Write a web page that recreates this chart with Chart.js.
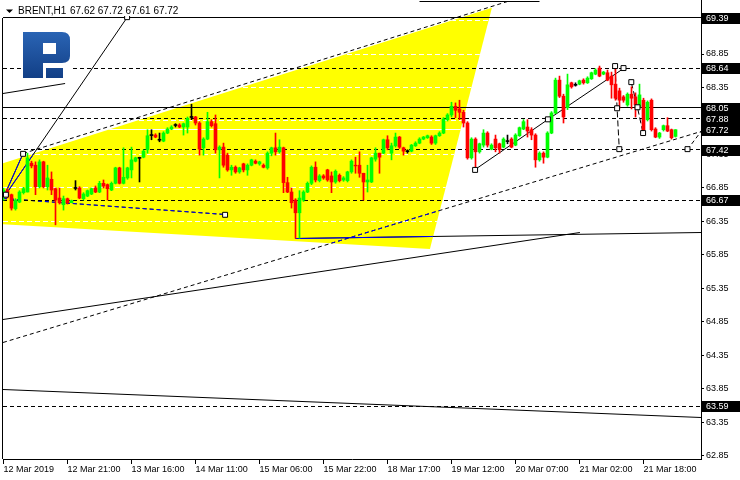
<!DOCTYPE html>
<html><head><meta charset="utf-8">
<script src="https://cdn.jsdelivr.net/npm/chart.js@4"></script>
<style>html,body{margin:0;padding:0;background:#fff}</style>
</head><body>
<canvas id="c" width="740" height="480"></canvas>
<script>
// ---------- DATA ----------
const symbolTitle = 'BRENT,H1';
const lastQuote = '67.62 67.72 67.61 67.72';
const opens = [66.75,66.81,66.75,66.54,66.64,66.78,66.79,67.22,67.19,66.87,
67.24,66.87,66.98,66.84,66.70,66.60,66.69,66.63,66.85,66.85,
66.69,66.73,66.76,66.85,66.79,66.92,66.90,66.82,66.92,67.15,
66.92,67.00,67.12,67.25,67.30,67.31,67.42,67.64,67.64,67.57,
67.55,67.67,67.73,67.79,67.79,67.76,67.76,67.91,67.91,67.82,
67.45,67.58,67.84,67.81,67.42,67.46,67.34,67.12,67.16,67.09,
67.21,67.12,67.19,67.25,67.21,67.19,67.15,67.37,67.45,67.39,
67.45,66.93,66.79,66.67,66.48,66.67,66.79,66.92,67.16,66.96,
67.03,67.12,67.03,66.94,67.04,66.97,66.96,67.09,67.19,67.19,
67.07,66.94,66.94,67.28,67.37,67.37,67.57,67.37,67.48,67.61,
67.45,67.40,67.40,67.48,67.52,67.58,67.60,67.61,67.52,67.63,
67.67,67.87,67.94,68.07,68.03,67.98,67.82,67.30,67.58,67.39,
67.49,67.67,67.43,67.58,67.51,67.46,67.55,67.58,67.49,67.63,
67.73,67.76,67.72,67.64,67.27,67.37,67.31,67.67,67.97,68.46,
68.22,68.05,68.42,68.39,68.40,68.46,68.42,68.48,68.55,68.64,
68.55,68.57,68.52,68.40,68.30,68.21,68.09,68.25,68.21,68.06,
68.16,67.87,68.16,67.73,67.61,67.72,67.78,67.72,67.62];
const highs = [66.85,66.84,66.76,66.69,66.81,66.86,67.37,67.25,67.24,67.27,
67.25,67.19,67.09,66.85,66.85,66.73,66.70,66.67,66.96,66.87,
66.78,66.82,66.85,66.88,66.95,66.97,66.91,66.94,67.16,67.16,
67.45,67.16,67.46,67.31,67.31,67.42,67.72,67.72,67.66,67.67,
67.69,67.75,67.78,67.81,67.81,67.82,67.91,68.10,67.92,67.84,
67.60,67.98,67.87,67.94,67.48,67.52,67.37,67.19,67.18,67.16,
67.22,67.21,67.28,67.27,67.25,67.21,67.39,67.46,67.67,67.57,
67.46,67.01,66.85,66.69,66.81,66.81,66.94,67.18,67.24,67.05,
67.05,67.13,67.09,67.12,67.06,67.02,67.10,67.27,67.31,67.39,
67.07,67.19,67.31,67.45,67.37,67.58,67.63,67.52,67.67,67.62,
67.46,67.42,67.50,67.54,67.60,67.62,67.64,67.63,67.64,67.69,
67.90,67.96,68.13,68.12,68.16,68.01,67.84,67.60,67.60,67.52,
67.72,67.69,67.51,67.64,67.52,67.60,67.64,67.60,67.66,67.76,
67.87,67.87,67.75,67.66,67.39,67.39,67.69,67.99,68.49,68.52,
68.25,68.55,68.43,68.42,68.46,68.48,68.51,68.58,68.63,68.67,
68.59,68.61,68.58,68.67,68.34,68.23,68.27,68.36,68.27,68.40,
68.19,68.15,68.18,67.75,67.68,67.79,67.90,67.73,67.72];
const lows = [66.67,66.70,66.52,66.52,66.63,66.76,66.79,67.15,66.75,66.85,
66.85,66.82,66.75,66.30,66.61,66.52,66.61,66.63,66.82,66.69,
66.67,66.72,66.75,66.78,66.78,66.85,66.67,66.81,66.91,66.91,
66.91,66.98,67.00,67.24,66.94,67.30,67.37,67.57,67.60,67.54,
67.54,67.66,67.72,67.76,67.75,67.64,67.67,67.87,67.79,67.34,
67.34,67.57,67.76,67.37,67.00,67.16,67.10,67.04,67.07,67.07,
67.09,67.04,67.18,67.21,67.19,67.15,67.13,67.33,67.34,67.37,
66.78,66.78,66.55,66.10,66.10,66.65,66.78,66.90,66.94,66.94,
66.98,66.95,66.78,66.92,66.94,66.95,66.94,67.07,67.07,67.01,
66.67,66.79,66.93,67.25,67.07,67.36,67.42,67.27,67.46,67.44,
67.34,67.37,67.39,67.47,67.51,67.57,67.59,67.50,67.50,67.62,
67.66,67.85,67.91,67.90,67.87,67.76,67.28,67.28,67.12,67.37,
67.46,67.46,67.42,67.39,67.37,67.45,67.51,67.45,67.48,67.62,
67.72,67.61,67.57,67.16,67.25,67.22,67.30,67.66,67.96,68.20,
67.82,68.02,68.34,68.37,68.39,68.40,68.41,68.47,68.54,68.51,
68.54,68.45,68.19,68.16,68.04,68.13,68.07,68.03,67.91,68.04,
67.70,67.85,67.70,67.60,67.59,67.70,67.69,67.58,67.61];
const closes = [66.82,66.73,66.55,66.67,66.79,66.84,67.30,67.18,66.87,67.24,
66.87,67.00,66.82,66.67,66.63,66.69,66.63,66.66,66.85,66.70,
66.76,66.81,66.84,66.79,66.92,66.88,66.84,66.92,67.15,66.92,
67.01,67.15,67.27,67.30,67.30,67.40,67.63,67.64,67.61,67.57,
67.67,67.73,67.76,67.79,67.76,67.81,67.89,67.91,67.82,67.43,
67.58,67.84,67.78,67.42,67.46,67.19,67.12,67.16,67.09,67.15,
67.12,67.19,67.27,67.22,67.24,67.16,67.37,67.45,67.39,67.46,
66.93,66.79,66.63,66.48,66.70,66.79,66.92,67.16,66.97,67.03,
67.00,66.97,66.94,67.10,66.96,67.00,67.09,67.25,67.18,67.07,
66.94,66.97,67.30,67.37,67.31,67.57,67.45,67.48,67.61,67.46,
67.40,67.40,67.49,67.52,67.58,67.61,67.63,67.52,67.63,67.67,
67.88,67.94,68.07,68.01,67.98,67.82,67.30,67.58,67.39,67.51,
67.67,67.49,67.49,67.45,67.42,67.58,67.55,67.46,67.64,67.75,
67.84,67.70,67.64,67.27,67.37,67.31,67.67,67.97,68.46,68.22,
67.91,68.39,68.36,68.39,68.45,68.42,68.49,68.57,68.61,68.52,
68.58,68.46,68.39,68.19,68.16,68.16,68.25,68.19,68.09,68.24,
67.72,68.13,67.72,67.61,67.67,67.78,67.70,67.60,67.72];

// x-axis tick labels, placed at bar numbers
const xTickBars   = [0,16,32,48,64,80,96,112,128,144,160];
const xTickLabels = ['12 Mar 2019','12 Mar 21:00','13 Mar 16:00','14 Mar 11:00','15 Mar 06:00',
                     '15 Mar 22:00','18 Mar 17:00','19 Mar 12:00','20 Mar 07:00','21 Mar 02:00','21 Mar 18:00'];
// y-axis tick labels
const yTicks = [62.85,63.35,63.85,64.35,64.85,65.35,65.85,66.35,66.85,67.35,67.85,68.35,68.85,69.35];
// highlighted price labels on the axis
const levelLabels = [69.39,68.64,68.05,67.88,67.72,67.42,66.67,63.59];
// horizontal levels
const solidLevels  = [69.39, 68.05];
const dashedLevels = [68.64, 67.88, 67.42, 66.67, 63.59];
const topLevel = [69.63];
// visible bar / price range
const xMin = -0.125, xMax = 174.375;
const yMin = 62.805, yMax = 69.656;

// drawn objects, points as [bar, price]
const zonePoly   = [[xMin,67.22],[122.1,69.54],[106.6,65.94],[xMin,66.31]];
const steepLine  = [[xMin,66.69],[30.9,69.40]];
const legLine    = [[xMin,66.70],[4.9,67.36]];
const lowDashed  = [[xMin,66.69],[55.4,66.45]];
const flatLine   = [[73,66.10],[xMax,66.19]];
const riseSolid  = [[xMin,64.88],[144.1,66.19]];
const riseDashed = [[xMin,64.55],[xMax,67.69]];
const fallSolid  = [[xMin,63.84],[xMax,63.42]];
const logoLine   = [[xMin,68.26],[15.4,68.41]];
const zoneEdge   = [[4.9,67.36],[126,69.63]];
const topLineBars = [104, 134];
const zigUp      = [[117.9,67.12],[136.1,67.875],[155.0,68.64]];
const zigDrop1   = [[152.9,68.67],[153.4,68.04],[153.95,67.43]];
const zigDrop2   = [[156.95,68.43],[158.5,68.055],[159.9,67.67]];
const zigEnd     = [[171.0,67.43],[xMax,67.69]];
const markers    = [[30.9,69.40],[4.9,67.36],[0.6,66.75],[55.4,66.45],[117.9,67.12],[136.1,67.875],
                    [155.0,68.64],[152.9,68.67],[153.4,68.04],[153.95,67.43],[156.95,68.43],[158.5,68.055],
                    [159.9,67.67],[171.0,67.43]];

// ---------- CHART ----------
const GREEN = '#00ff00', RED = '#ff0000';
const bars = opens.map((_, i) => i);
const candleColor = bars.map(i => closes[i] > opens[i] ? GREEN : (closes[i] < opens[i] ? RED : '#000'));
const toXY = arr => arr.map(([x, y]) => ({x, y}));

function lineDs(points, opts = {}) {
  return Object.assign({
    type: 'line', data: toXY(points), borderColor: '#000', borderWidth: 1,
    pointRadius: 0, fill: false, tension: 0, order: 50, borderDash: []
  }, opts);
}
const D = [4, 3];
const datasets = [];
datasets.push({type:'line', data: toXY(zonePoly.concat([zonePoly[0]])), fill:'shape',
  backgroundColor:'#ffff00', borderWidth:0, pointRadius:0, tension:0, order:100, isZone:true});
solidLevels.forEach(p => datasets.push(lineDs([[xMin,p],[xMax,p]])));
dashedLevels.forEach(p => datasets.push(lineDs([[xMin,p],[xMax,p]], {borderDash:D})));
topLevel.forEach(p => datasets.push(lineDs(topLineBars.map(x => [x, p]))));
datasets.push(lineDs(steepLine, {xor:true}));
datasets.push(lineDs(legLine, {xor:true}));
datasets.push(lineDs(lowDashed, {xor:true, borderDash:D}));
datasets.push(lineDs(flatLine, {xor:true}));
datasets.push(lineDs(riseSolid));
datasets.push(lineDs(riseDashed, {xor:true, borderDash:D}));
datasets.push(lineDs(fallSolid));
datasets.push(lineDs(logoLine));
datasets.push(lineDs(zoneEdge, {borderDash:D}));
datasets.push(lineDs(zigUp));
datasets.push(lineDs(zigDrop1, {borderDash:[6,3]}));
datasets.push(lineDs(zigDrop2, {borderDash:[6,3]}));
datasets.push(lineDs(zigEnd, {borderDash:D}));
datasets.push({type:'bar', data: bars.map(i => ({x:i, y:[lows[i], highs[i]]})),
  backgroundColor: candleColor, barThickness:1, grouped:false, borderWidth:0, order:20});
datasets.push({type:'bar', data: bars.map(i => ({x:i, y: opens[i] === closes[i] ? [opens[i]-0.0075, opens[i]+0.0075] : [opens[i], closes[i]]})),
  backgroundColor: candleColor, barThickness:3, grouped:false, borderWidth:0, order:10});
datasets.push({type:'scatter', data: toXY(markers), pointStyle:'rect', pointRadius:3.5,
  pointBackgroundColor:'#fff', pointBorderColor:'#000', pointBorderWidth:1, showLine:false, order:5});

function zonePath(chart, ctx) {
  const idx = chart.data.datasets.findIndex(d => d.isZone);
  const pts = chart.getDatasetMeta(idx).data;
  ctx.beginPath();
  pts.forEach((p, i) => i ? ctx.lineTo(p.x, p.y) : ctx.moveTo(p.x, p.y));
  ctx.closePath();
}

const mt4 = {
  id: 'mt4',
  beforeDatasetsDraw(chart) {
    chart.data.datasets.forEach((d, i) => {
      if (d.type === 'line' && !d.isZone) {
        chart.getDatasetMeta(i).data.forEach(p => { p.y = Math.round(p.y - 0.5) + 0.5; });
      }
    });
  },
  afterDatasetDraw(chart, args) {
    const ds = chart.data.datasets[args.index];
    const ctx = chart.ctx, ca = chart.chartArea, ys = chart.scales.y;
    if (ds.isZone) {
      ctx.save(); zonePath(chart, ctx); ctx.clip();
      ctx.strokeStyle = '#fff'; ctx.lineWidth = 1;
      ctx.setLineDash([5, 3]);
      yTicks.forEach(v => {
        const y = Math.round(ys.getPixelForValue(v) - 0.5) + 0.5;
        ctx.beginPath(); ctx.moveTo(ca.left, y); ctx.lineTo(ca.right, y); ctx.stroke();
      });
      ctx.setLineDash([]);
      const yb = Math.round(ys.getPixelForValue(closes[closes.length-1]) - 0.5) + 0.5;
      ctx.beginPath(); ctx.moveTo(ca.left, yb); ctx.lineTo(ca.right, yb); ctx.stroke();
      ctx.restore();
    }
    if (ds.xor) {
      const pts = args.meta.data;
      ctx.save(); zonePath(chart, ctx); ctx.clip();
      ctx.strokeStyle = '#0000ff'; ctx.lineWidth = 1; ctx.setLineDash(ds.borderDash || []);
      ctx.beginPath();
      pts.forEach((p, i) => i ? ctx.lineTo(p.x, p.y) : ctx.moveTo(p.x, p.y));
      ctx.stroke(); ctx.restore();
    }
  },
  afterDatasetsDraw(chart) {
    // logo
    const ctx = chart.ctx;
    ctx.save();
    ctx.fillStyle = '#fff'; ctx.fillRect(21, 30, 51, 51);
    const g = ctx.createLinearGradient(0, 32, 0, 78);
    g.addColorStop(0, '#2a64b4'); g.addColorStop(1, '#123f86');
    ctx.fillStyle = g;
    ctx.beginPath();
    ctx.moveTo(23, 32); ctx.lineTo(62, 32); ctx.quadraticCurveTo(70, 32, 70, 40);
    ctx.lineTo(70, 56); ctx.quadraticCurveTo(70, 63, 62, 63); ctx.lineTo(43, 63);
    ctx.lineTo(43, 78); ctx.lineTo(23, 78); ctx.closePath();
    ctx.moveTo(43, 43); ctx.lineTo(43, 54); ctx.lineTo(56, 54); ctx.lineTo(56, 43); ctx.closePath();
    ctx.fill('evenodd');
    ctx.fillRect(46, 68, 17, 10);
    ctx.restore();
  },
  afterDraw(chart) {
    const ctx = chart.ctx, ys = chart.scales.y, ca = chart.chartArea;
    ctx.save();
    // left frame
    ctx.strokeStyle = '#000'; ctx.lineWidth = 1;
    ctx.beginPath(); ctx.moveTo(ca.left - 0.5, Math.round(ys.getPixelForValue(69.39))); ctx.lineTo(ca.left - 0.5, ca.bottom); ctx.stroke();
    // title
    ctx.fillStyle = '#fff'; ctx.fillRect(0, 0, 180, 16);
    ctx.fillStyle = '#000';
    ctx.beginPath(); ctx.moveTo(6, 9.5); ctx.lineTo(13, 9.5); ctx.lineTo(9.5, 13); ctx.closePath(); ctx.fill();
    ctx.font = '10px "Liberation Sans", Arial, sans-serif';
    ctx.textBaseline = 'alphabetic'; ctx.textAlign = 'left';
    ctx.fillText(symbolTitle, 18, 14);
    ctx.fillText(lastQuote, 70, 14);
    // level boxes
    ctx.font = '9px "Liberation Sans", Arial, sans-serif';
    ctx.textBaseline = 'middle';
    levelLabels.forEach(v => {
      const y = Math.round(ys.getPixelForValue(v));
      ctx.fillStyle = '#000'; ctx.fillRect(702, y - 5, 38, 11);
      ctx.fillStyle = '#fff'; ctx.fillText(v.toFixed(2), 706, y + 0.5);
    });
    ctx.restore();
  }
};

Chart.defaults.font.family = '"Liberation Sans", Arial, sans-serif';
Chart.defaults.font.size = 9;
Chart.defaults.color = '#000';

const noPad = s => { s.paddingTop = 0; s.paddingBottom = 0; s.paddingLeft = 0; s.paddingRight = 0; };

new Chart(document.getElementById('c'), {
  type: 'bar',
  data: { datasets },
  options: {
    responsive: false, animation: false, devicePixelRatio: 1, events: [],
    layout: { autoPadding: false, padding: { left: 3, right: 0, top: 0, bottom: 0 } },
    plugins: { legend: { display: false }, tooltip: { enabled: false } },
    scales: {
      x: {
        type: 'linear', min: xMin, max: xMax, offset: false, position: 'bottom',
        grid: { display: true, drawOnChartArea: false, drawTicks: true, tickLength: 5, color: '#000', offset: false },
        border: { display: true, color: '#000' },
        ticks: { autoSkip: false, maxRotation: 0, align: 'start', padding: 0, color: '#000',
                 callback: (v, i) => xTickLabels[i] },
        afterBuildTicks: s => { s.ticks = xTickBars.map(v => ({ value: v })); },
        afterFit: s => { s.height = 21; noPad(s); }
      },
      y: {
        type: 'linear', min: yMin, max: yMax, position: 'right', beginAtZero: false,
        grid: { display: true, drawOnChartArea: false, drawTicks: true, tickLength: 3, color: '#000' },
        border: { display: true, color: '#000' },
        ticks: { autoSkip: false, padding: 2, color: '#000', callback: v => v.toFixed(2) },
        afterBuildTicks: s => { s.ticks = yTicks.map(v => ({ value: v })); },
        afterFit: s => { s.width = 39; noPad(s); }
      }
    }
  },
  plugins: [mt4]
});
</script>
</body></html>
